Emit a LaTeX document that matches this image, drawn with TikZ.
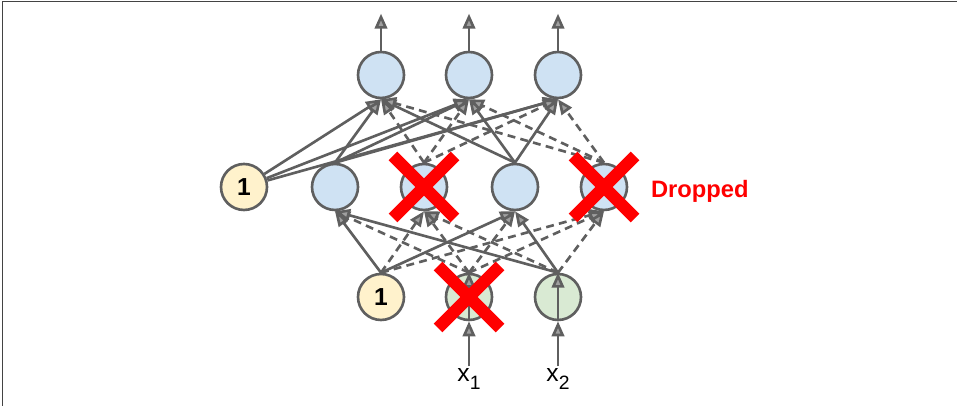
\documentclass[tikz,border=0pt]{standalone}
\usepackage{fontspec}
\setmainfont{Liberation Sans}
\usetikzlibrary{positioning,arrows.meta}
\definecolor{wire}    {HTML}{5F5F5F}
\definecolor{hidfill} {HTML}{CFE2F3}
\definecolor{biasfill}{HTML}{FFF2CC}
\definecolor{inpfill} {HTML}{D9EAD3}
\definecolor{dropred} {HTML}{FF0000}
\tikzset{
  >={Triangle[length=3mm,width=2.5mm,fill=wire!60]},
  % --- nodes
  neuron/.style = {circle, draw=wire, line width=1.5pt, minimum size=9.2mm,
                   inner sep=0pt, fill=hidfill},
  hid/.style    = {neuron, fill=hidfill},
  bias/.style   = {neuron, fill=biasfill, font=\bfseries\fontsize{14}{14}\selectfont},
  inp/.style    = {neuron, fill=inpfill},
  lbl/.style    = {font=\fontsize{14}{14}\selectfont, inner sep=1pt},
  droptxt/.style= {font=\bfseries\fontsize{13.5}{13.5}\selectfont, text=dropred},
  % --- edges
  e/.style      = {->, line width=1.5pt, draw=wire},
  ed/.style     = {e, dash pattern=on 4.5pt off 3pt},
  cross/.style  = {draw=dropred, line width=7pt},
  frame/.style  = {draw=wire!70!black, line width=1.1pt},
}
\begin{document}
\begin{tikzpicture}
  \useasboundingbox (0,0) rectangle (19.14,8.12);
  \draw[frame] (0.05,0) -- (0.05,8.09) -- (19.14,8.09);

  % output layer
  \node[hid] (o1) at (7.62,6.62) {};
  \node[hid] (o2) at (9.38,6.62) {};
  \node[hid] (o3) at (11.16,6.62) {};
  % hidden layer
  \node[bias] (hb) at (4.88,4.38) {1};
  \node[hid] (h1) at (6.70,4.38) {};
  \node[hid] (h2) at (8.48,4.38) {};
  \node[hid] (h3) at (10.30,4.38) {};
  \node[hid] (h4) at (12.08,4.38) {};
  % input layer
  \node[bias] (ib) at (7.62,2.18) {1};
  \node[inp] (i1) at (9.38,2.18) {};
  \node[inp] (i2) at (11.16,2.18) {};

  \coordinate[above=0.74cm of o1] (t1);
  \coordinate[above=0.74cm of o2] (t2);
  \coordinate[above=0.74cm of o3] (t3);
  \coordinate[below=0.9cm of i1] (s1);
  \coordinate[below=0.9cm of i2] (s2);
  \node[lbl, below=0pt of s1] (x1) {x\raisebox{-0.6ex}{\fontsize{11}{11}\selectfont 1}};
  \node[lbl, below=0pt of s2] (x2) {x\raisebox{-0.6ex}{\fontsize{11}{11}\selectfont 2}};
  \node[droptxt, right=0.33cm of h4, yshift=-0.08cm] (dr) {Dropped};

  % outputs
  \draw[e] (o1.north) -- (t1); \draw[e] (o2.north) -- (t2); \draw[e] (o3.north) -- (t3);

  % hidden -> output
  \draw[e] (hb) -- (o1.south); \draw[e] (hb) -- (o2.south); \draw[e] (hb) -- (o3.south);
  \draw[e] (h1.north) -- (o1.south); \draw[e] (h1.north) -- (o2.south); \draw[e] (h1.north) -- (o3.south);
  \draw[ed] (h2.north) -- (o1.south); \draw[ed] (h2.north) -- (o2.south); \draw[ed] (h2.north) -- (o3.south);
  \draw[e] (h3.north) -- (o1.south); \draw[e] (h3.north) -- (o2.south); \draw[e] (h3.north) -- (o3.south);
  \draw[ed] (h4.north) -- (o1.south); \draw[ed] (h4.north) -- (o2.south); \draw[ed] (h4.north) -- (o3.south);

  % input -> hidden
  \draw[e] (ib.north) -- (h1.south); \draw[ed] (ib.north) -- (h2.south);
  \draw[e] (ib.north) -- (h3.south); \draw[ed] (ib.north) -- (h4.south);
  \draw[ed] (i1.north) -- (h1.south); \draw[ed] (i1.north) -- (h2.south);
  \draw[ed] (i1.north) -- (h3.south); \draw[ed] (i1.north) -- (h4.south);
  \draw[e] (i2.north) -- (h1.south); \draw[ed] (i2.north) -- (h2.south);
  \draw[e] (i2.north) -- (h3.south); \draw[ed] (i2.north) -- (h4.south);

  % inputs
  \draw[e] (s1) -- (i1.south); \draw[e] (i1.south) -- (i1.north);
  \draw[e] (s2) -- (i2.south); \draw[e] (i2.south) -- (i2.north);

  % dropped units
  \draw[cross] ([shift={(-0.62,0.62)}]h2.center) -- ([shift={(0.62,-0.62)}]h2.center);
  \draw[cross] ([shift={(-0.62,-0.62)}]h2.center) -- ([shift={(0.62,0.62)}]h2.center);
  \draw[cross] ([shift={(-0.62,0.62)}]h4.center) -- ([shift={(0.62,-0.62)}]h4.center);
  \draw[cross] ([shift={(-0.62,-0.62)}]h4.center) -- ([shift={(0.62,0.62)}]h4.center);
  \draw[cross] ([shift={(-0.62,0.62)}]i1.center) -- ([shift={(0.62,-0.62)}]i1.center);
  \draw[cross] ([shift={(-0.62,-0.62)}]i1.center) -- ([shift={(0.62,0.62)}]i1.center);
\end{tikzpicture}
\end{document}
